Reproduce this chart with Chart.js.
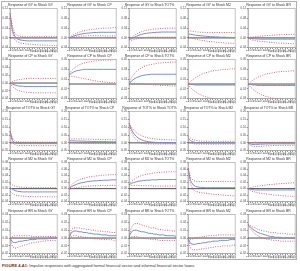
<!DOCTYPE html>
<html><head><meta charset="utf-8">
<script src="https://cdn.jsdelivr.net/npm/chart.js@4/dist/chart.umd.min.js"></script>
<style>
html,body{margin:0;padding:0;background:#fff;width:300px;height:271px;overflow:hidden;font-family:"Liberation Sans",Arial,sans-serif}
#box{position:absolute;left:1px;top:1px;width:296px;height:259px;border:1px solid #b0b0b0;box-sizing:border-box}
.cell{position:absolute}
#cap{position:absolute;left:2px;top:263px;font-size:4px;color:#333;white-space:nowrap}
#cap b{color:#7a2a1a}
</style></head><body>
<div id="box"></div>
<div id="cap"><b>FIGURE 4-A1:</b> Impulse responses with aggregated formal financial sector and informal financial sector loans.</div>
<script>
const periods = [1,2,3,4,5,6,7,8,9,10,11,12,13,14,15,16,17,18,19,20];
const variables = ['GY','CP','TOT%','M2','BR'];
// axis ranges per row: [min, max, step]
const rowAxis = [[-0.04,0.12,0.04],[-0.03,0.05,0.01],[-0.05,0.20,0.05],[-0.04,0.08,0.02],[-0.02,0.03,0.01]];
const cpGyAxis = [-0.04,0.06,0.01];

// Row 1: response of GY
const resp_GY_GY=[0.100,0.030,0.005,-0.004,-0.008,-0.010,-0.011,-0.012,-0.012,-0.012,-0.012,-0.012,-0.012,-0.012,-0.012,-0.012,-0.012,-0.012,-0.012,-0.012];
const hi_GY_GY=[0.100,0.045,0.018,0.010,0.007,0.006,0.005,0.005,0.005,0.005,0.005,0.005,0.005,0.005,0.005,0.005,0.005,0.005,0.005,0.005];
const lo_GY_GY=[0.100,0.018,-0.008,-0.016,-0.020,-0.022,-0.024,-0.025,-0.026,-0.027,-0.028,-0.028,-0.029,-0.029,-0.030,-0.030,-0.030,-0.031,-0.031,-0.031];
const resp_GY_CP=[0,0.004,0.008,0.011,0.014,0.016,0.018,0.019,0.020,0.021,0.022,0.022,0.023,0.023,0.023,0.023,0.023,0.023,0.023,0.023];
const hi_GY_CP=[0,0.008,0.014,0.019,0.023,0.026,0.029,0.031,0.033,0.035,0.036,0.037,0.038,0.039,0.040,0.040,0.041,0.041,0.042,0.042];
const lo_GY_CP=[0,0.001,0.003,0.005,0.006,0.007,0.008,0.008,0.009,0.009,0.009,0.009,0.009,0.009,0.009,0.008,0.008,0.008,0.008,0.008];
const resp_GY_TOT=[-0.006,-0.004,0.002,0.007,0.011,0.014,0.017,0.019,0.020,0.021,0.022,0.023,0.023,0.024,0.024,0.024,0.024,0.024,0.024,0.024];
const hi_GY_TOT=[-0.006,0.002,0.010,0.016,0.021,0.025,0.028,0.031,0.033,0.035,0.036,0.037,0.038,0.039,0.039,0.040,0.040,0.040,0.040,0.040];
const lo_GY_TOT=[-0.006,-0.010,-0.007,-0.004,-0.002,0.000,0.001,0.002,0.003,0.003,0.003,0.003,0.003,0.003,0.003,0.003,0.003,0.003,0.003,0.003];
const resp_GY_M2=[0.016,0.015,0.013,0.011,0.010,0.009,0.008,0.007,0.006,0.005,0.005,0.004,0.004,0.003,0.003,0.003,0.002,0.002,0.002,0.002];
const hi_GY_M2=[0.026,0.028,0.027,0.025,0.024,0.023,0.023,0.022,0.022,0.022,0.022,0.022,0.022,0.022,0.022,0.022,0.022,0.022,0.022,0.022];
const lo_GY_M2=[0.006,0.002,-0.002,-0.005,-0.007,-0.009,-0.011,-0.012,-0.014,-0.015,-0.016,-0.017,-0.018,-0.019,-0.020,-0.021,-0.021,-0.022,-0.022,-0.023];
const resp_GY_BR=[0,-0.002,-0.003,-0.004,-0.004,-0.005,-0.005,-0.005,-0.005,-0.005,-0.005,-0.005,-0.005,-0.005,-0.005,-0.005,-0.005,-0.005,-0.005,-0.005];
const hi_GY_BR=[0,0.003,0.004,0.005,0.006,0.007,0.008,0.009,0.010,0.010,0.011,0.012,0.012,0.013,0.013,0.014,0.014,0.014,0.015,0.015];
const lo_GY_BR=[0,-0.006,-0.009,-0.011,-0.013,-0.014,-0.015,-0.016,-0.017,-0.018,-0.019,-0.020,-0.021,-0.021,-0.022,-0.022,-0.023,-0.023,-0.024,-0.024];

// Row 2: response of CP
const resp_CP_GY=[0,-0.003,-0.005,-0.007,-0.008,-0.008,-0.009,-0.009,-0.009,-0.009,-0.009,-0.009,-0.009,-0.009,-0.009,-0.009,-0.009,-0.009,-0.009,-0.009];
const hi_CP_GY=[0,0.004,0.006,0.008,0.009,0.010,0.011,0.011,0.012,0.012,0.012,0.012,0.012,0.012,0.012,0.012,0.012,0.012,0.012,0.012];
const lo_CP_GY=[0,-0.009,-0.014,-0.018,-0.020,-0.022,-0.023,-0.024,-0.024,-0.025,-0.025,-0.025,-0.025,-0.025,-0.025,-0.025,-0.025,-0.025,-0.025,-0.025];
const resp_CP_CP=[0.018,0.022,0.025,0.027,0.028,0.029,0.030,0.030,0.030,0.030,0.030,0.030,0.030,0.030,0.030,0.030,0.030,0.030,0.030,0.030];
const hi_CP_CP=[0.020,0.027,0.032,0.036,0.039,0.041,0.043,0.044,0.045,0.046,0.047,0.047,0.048,0.048,0.049,0.049,0.049,0.049,0.050,0.050];
const lo_CP_CP=[0.016,0.016,0.015,0.014,0.013,0.012,0.011,0.010,0.009,0.008,0.007,0.006,0.005,0.005,0.004,0.004,0.003,0.003,0.003,0.002];
const resp_CP_TOT=[0,0.006,0.010,0.013,0.015,0.017,0.018,0.019,0.019,0.020,0.020,0.020,0.020,0.020,0.020,0.020,0.020,0.020,0.020,0.020];
const hi_CP_TOT=[0,0.013,0.020,0.026,0.030,0.033,0.036,0.038,0.039,0.040,0.041,0.042,0.043,0.043,0.044,0.044,0.044,0.045,0.045,0.045];
const lo_CP_TOT=[0,0.000,0.001,0.001,0.001,0.001,0.000,0.000,-0.001,-0.001,-0.002,-0.002,-0.002,-0.003,-0.003,-0.003,-0.003,-0.004,-0.004,-0.004];
const resp_CP_M2=[0,-0.001,-0.001,-0.002,-0.002,-0.002,-0.002,-0.002,-0.002,-0.002,-0.002,-0.002,-0.002,-0.002,-0.002,-0.002,-0.002,-0.002,-0.002,-0.002];
const hi_CP_M2=[0,0.005,0.009,0.013,0.016,0.019,0.021,0.023,0.024,0.026,0.027,0.028,0.028,0.029,0.030,0.030,0.030,0.031,0.031,0.031];
const lo_CP_M2=[0,-0.007,-0.012,-0.016,-0.019,-0.022,-0.024,-0.026,-0.027,-0.029,-0.030,-0.031,-0.032,-0.032,-0.033,-0.033,-0.034,-0.034,-0.034,-0.035];
const resp_CP_BR=[0,-0.001,-0.002,-0.002,-0.003,-0.003,-0.003,-0.003,-0.003,-0.003,-0.003,-0.003,-0.003,-0.003,-0.003,-0.003,-0.003,-0.003,-0.003,-0.003];
const hi_CP_BR=[0,0.004,0.008,0.011,0.014,0.016,0.018,0.020,0.021,0.022,0.023,0.024,0.025,0.025,0.026,0.026,0.026,0.027,0.027,0.027];
const lo_CP_BR=[0,-0.006,-0.011,-0.015,-0.018,-0.021,-0.023,-0.025,-0.026,-0.028,-0.029,-0.030,-0.030,-0.031,-0.031,-0.032,-0.032,-0.032,-0.033,-0.033];

// Row 3: response of TOT%
const resp_TOT_GY=[0.075,0.015,0.000,-0.004,-0.005,-0.005,-0.005,-0.005,-0.005,-0.005,-0.005,-0.005,-0.005,-0.005,-0.005,-0.005,-0.005,-0.005,-0.005,-0.005];
const hi_TOT_GY=[0.075,0.030,0.012,0.007,0.005,0.005,0.005,0.005,0.005,0.005,0.005,0.005,0.005,0.005,0.005,0.005,0.005,0.005,0.005,0.005];
const lo_TOT_GY=[0.075,0.002,-0.012,-0.016,-0.017,-0.018,-0.018,-0.018,-0.018,-0.018,-0.018,-0.018,-0.018,-0.018,-0.018,-0.018,-0.018,-0.018,-0.018,-0.018];
const resp_TOT_CP=[0.012,0.013,0.013,0.012,0.012,0.011,0.011,0.010,0.010,0.009,0.009,0.009,0.008,0.008,0.008,0.008,0.007,0.007,0.007,0.007];
const hi_TOT_CP=[0.022,0.025,0.026,0.026,0.025,0.025,0.024,0.024,0.023,0.023,0.022,0.022,0.022,0.021,0.021,0.021,0.021,0.020,0.020,0.020];
const lo_TOT_CP=[0.002,0.002,0.001,0.000,-0.001,-0.002,-0.003,-0.003,-0.004,-0.004,-0.005,-0.005,-0.005,-0.005,-0.005,-0.005,-0.005,-0.005,-0.005,-0.005];
const resp_TOT_TOT=[0.125,0.085,0.058,0.040,0.028,0.020,0.014,0.010,0.007,0.005,0.004,0.003,0.002,0.002,0.001,0.001,0.001,0.001,0.000,0.000];
const hi_TOT_TOT=[0.125,0.100,0.080,0.065,0.054,0.046,0.040,0.035,0.031,0.028,0.026,0.024,0.023,0.022,0.021,0.020,0.020,0.019,0.019,0.019];
const lo_TOT_TOT=[0.125,0.070,0.038,0.018,0.006,-0.001,-0.004,-0.006,-0.007,-0.007,-0.007,-0.007,-0.007,-0.007,-0.007,-0.007,-0.007,-0.007,-0.007,-0.007];
const resp_TOT_M2=[0.030,0.015,0.006,0.002,0.000,0.000,0.000,0.000,0.000,0.000,0.000,0.000,0.000,0.000,0.000,0.000,0.000,0.000,0.000,0.000];
const hi_TOT_M2=[0.042,0.030,0.021,0.016,0.013,0.011,0.010,0.010,0.010,0.010,0.010,0.010,0.010,0.010,0.010,0.010,0.010,0.010,0.010,0.010];
const lo_TOT_M2=[0.018,0.002,-0.005,-0.007,-0.008,-0.008,-0.008,-0.008,-0.008,-0.008,-0.008,-0.008,-0.008,-0.008,-0.008,-0.008,-0.008,-0.008,-0.008,-0.008];
const resp_TOT_BR=[0,-0.008,-0.010,-0.010,-0.009,-0.008,-0.008,-0.007,-0.007,-0.006,-0.006,-0.006,-0.006,-0.006,-0.006,-0.006,-0.006,-0.006,-0.006,-0.006];
const hi_TOT_BR=[0,0.002,0.003,0.004,0.004,0.004,0.004,0.004,0.004,0.004,0.004,0.004,0.004,0.004,0.004,0.004,0.004,0.004,0.004,0.004];
const lo_TOT_BR=[0,-0.018,-0.022,-0.023,-0.023,-0.022,-0.021,-0.020,-0.019,-0.018,-0.017,-0.017,-0.016,-0.016,-0.016,-0.016,-0.016,-0.016,-0.016,-0.016];

// Row 4: response of M2
const resp_M2_GY=[0.004,-0.002,-0.006,-0.008,-0.009,-0.010,-0.010,-0.010,-0.010,-0.010,-0.010,-0.010,-0.010,-0.010,-0.010,-0.010,-0.010,-0.010,-0.010,-0.010];
const hi_M2_GY=[0.016,0.011,0.008,0.006,0.005,0.004,0.004,0.003,0.003,0.003,0.003,0.003,0.003,0.003,0.003,0.003,0.003,0.003,0.003,0.003];
const lo_M2_GY=[-0.008,-0.015,-0.019,-0.021,-0.022,-0.023,-0.023,-0.024,-0.024,-0.024,-0.025,-0.025,-0.025,-0.025,-0.025,-0.025,-0.025,-0.025,-0.025,-0.025];
const resp_M2_CP=[0,0.006,0.010,0.013,0.016,0.018,0.019,0.021,0.022,0.023,0.024,0.024,0.025,0.025,0.026,0.026,0.026,0.027,0.027,0.027];
const hi_M2_CP=[0,0.012,0.018,0.023,0.027,0.030,0.032,0.034,0.036,0.037,0.038,0.039,0.040,0.041,0.041,0.042,0.042,0.043,0.043,0.043];
const lo_M2_CP=[0,0.000,0.002,0.003,0.004,0.005,0.006,0.007,0.008,0.008,0.009,0.009,0.009,0.010,0.010,0.010,0.010,0.010,0.010,0.010];
const resp_M2_TOT=[0.012,0.016,0.019,0.021,0.023,0.024,0.025,0.026,0.026,0.027,0.027,0.027,0.028,0.028,0.028,0.028,0.028,0.028,0.028,0.028];
const hi_M2_TOT=[0.012,0.022,0.028,0.033,0.037,0.040,0.042,0.044,0.046,0.047,0.048,0.049,0.050,0.050,0.051,0.051,0.052,0.052,0.052,0.052];
const lo_M2_TOT=[0.012,0.010,0.010,0.010,0.010,0.009,0.009,0.009,0.009,0.009,0.008,0.008,0.008,0.008,0.008,0.008,0.008,0.008,0.008,0.008];
const resp_M2_M2=[0.063,0.025,0.012,0.007,0.005,0.004,0.004,0.003,0.003,0.003,0.003,0.003,0.003,0.003,0.003,0.003,0.003,0.003,0.003,0.003];
const hi_M2_M2=[0.063,0.035,0.026,0.023,0.022,0.022,0.022,0.022,0.022,0.022,0.022,0.022,0.022,0.022,0.022,0.022,0.022,0.022,0.022,0.022];
const lo_M2_M2=[0.063,0.014,-0.002,-0.008,-0.010,-0.012,-0.013,-0.014,-0.015,-0.016,-0.017,-0.018,-0.018,-0.019,-0.020,-0.020,-0.021,-0.021,-0.022,-0.022];
const resp_M2_BR=[0,-0.002,-0.003,-0.004,-0.004,-0.004,-0.004,-0.004,-0.004,-0.004,-0.004,-0.004,-0.004,-0.004,-0.004,-0.004,-0.004,-0.004,-0.004,-0.004];
const hi_M2_BR=[0,0.003,0.005,0.007,0.008,0.009,0.010,0.011,0.012,0.013,0.013,0.014,0.015,0.015,0.016,0.016,0.017,0.017,0.018,0.018];
const lo_M2_BR=[0,-0.006,-0.009,-0.011,-0.013,-0.014,-0.015,-0.016,-0.017,-0.018,-0.019,-0.020,-0.020,-0.021,-0.022,-0.022,-0.023,-0.023,-0.024,-0.024];

// Row 5: response of BR
const resp_BR_GY=[0,-0.005,-0.006,-0.005,-0.004,-0.004,-0.003,-0.003,-0.002,-0.002,-0.002,-0.001,-0.001,-0.001,-0.001,-0.001,0.000,0.000,0.000,0.000];
const hi_BR_GY=[0,0.002,0.003,0.003,0.003,0.003,0.003,0.003,0.003,0.002,0.002,0.002,0.002,0.002,0.002,0.002,0.002,0.002,0.002,0.002];
const lo_BR_GY=[0,-0.011,-0.013,-0.012,-0.011,-0.010,-0.009,-0.008,-0.007,-0.006,-0.006,-0.005,-0.005,-0.004,-0.004,-0.003,-0.003,-0.003,-0.003,-0.003];
const resp_BR_CP=[0,0.007,0.009,0.009,0.008,0.008,0.007,0.007,0.006,0.006,0.005,0.005,0.005,0.004,0.004,0.004,0.003,0.003,0.003,0.003];
const hi_BR_CP=[0,0.011,0.013,0.013,0.013,0.012,0.012,0.011,0.011,0.010,0.010,0.009,0.009,0.009,0.008,0.008,0.008,0.007,0.007,0.007];
const lo_BR_CP=[0,0.002,0.003,0.003,0.002,0.002,0.001,0.001,0.000,0.000,-0.001,-0.001,-0.001,-0.002,-0.002,-0.002,-0.002,-0.002,-0.003,-0.003];
const resp_BR_TOT=[0.002,0.008,0.010,0.010,0.009,0.008,0.008,0.007,0.006,0.006,0.005,0.005,0.004,0.004,0.004,0.003,0.003,0.003,0.003,0.002];
const hi_BR_TOT=[0.002,0.014,0.018,0.019,0.018,0.017,0.016,0.015,0.014,0.013,0.013,0.012,0.011,0.011,0.010,0.010,0.010,0.009,0.009,0.009];
const lo_BR_TOT=[0.002,0.002,0.002,0.002,0.001,0.000,0.000,-0.001,-0.001,-0.002,-0.002,-0.002,-0.003,-0.003,-0.003,-0.003,-0.003,-0.003,-0.003,-0.003];
const resp_BR_M2=[0,-0.007,-0.008,-0.008,-0.007,-0.007,-0.006,-0.006,-0.005,-0.005,-0.004,-0.004,-0.004,-0.003,-0.003,-0.003,-0.003,-0.002,-0.002,-0.002];
const hi_BR_M2=[0,-0.002,-0.001,0.000,0.001,0.001,0.002,0.002,0.003,0.003,0.003,0.003,0.004,0.004,0.004,0.004,0.004,0.004,0.004,0.004];
const lo_BR_M2=[0,-0.013,-0.015,-0.015,-0.015,-0.014,-0.014,-0.013,-0.013,-0.012,-0.012,-0.011,-0.011,-0.011,-0.010,-0.010,-0.010,-0.010,-0.009,-0.009];
const resp_BR_BR=[0.017,0.014,0.011,0.009,0.007,0.006,0.005,0.004,0.003,0.002,0.002,0.001,0.001,0.001,0.000,0.000,0.000,0.000,0.000,0.000];
const hi_BR_BR=[0.017,0.016,0.014,0.013,0.011,0.010,0.009,0.009,0.008,0.007,0.007,0.007,0.006,0.006,0.006,0.006,0.005,0.005,0.005,0.005];
const lo_BR_BR=[0.017,0.012,0.008,0.005,0.003,0.001,0.000,-0.001,-0.002,-0.002,-0.003,-0.003,-0.003,-0.004,-0.004,-0.004,-0.004,-0.004,-0.004,-0.004];

const series = {
  GY_GY:[resp_GY_GY,lo_GY_GY,hi_GY_GY], GY_CP:[resp_GY_CP,lo_GY_CP,hi_GY_CP], GY_TOT:[resp_GY_TOT,lo_GY_TOT,hi_GY_TOT], GY_M2:[resp_GY_M2,lo_GY_M2,hi_GY_M2], GY_BR:[resp_GY_BR,lo_GY_BR,hi_GY_BR],
  CP_GY:[resp_CP_GY,lo_CP_GY,hi_CP_GY], CP_CP:[resp_CP_CP,lo_CP_CP,hi_CP_CP], CP_TOT:[resp_CP_TOT,lo_CP_TOT,hi_CP_TOT], CP_M2:[resp_CP_M2,lo_CP_M2,hi_CP_M2], CP_BR:[resp_CP_BR,lo_CP_BR,hi_CP_BR],
  TOT_GY:[resp_TOT_GY,lo_TOT_GY,hi_TOT_GY], TOT_CP:[resp_TOT_CP,lo_TOT_CP,hi_TOT_CP], TOT_TOT:[resp_TOT_TOT,lo_TOT_TOT,hi_TOT_TOT], TOT_M2:[resp_TOT_M2,lo_TOT_M2,hi_TOT_M2], TOT_BR:[resp_TOT_BR,lo_TOT_BR,hi_TOT_BR],
  M2_GY:[resp_M2_GY,lo_M2_GY,hi_M2_GY], M2_CP:[resp_M2_CP,lo_M2_CP,hi_M2_CP], M2_TOT:[resp_M2_TOT,lo_M2_TOT,hi_M2_TOT], M2_M2:[resp_M2_M2,lo_M2_M2,hi_M2_M2], M2_BR:[resp_M2_BR,lo_M2_BR,hi_M2_BR],
  BR_GY:[resp_BR_GY,lo_BR_GY,hi_BR_GY], BR_CP:[resp_BR_CP,lo_BR_CP,hi_BR_CP], BR_TOT:[resp_BR_TOT,lo_BR_TOT,hi_BR_TOT], BR_M2:[resp_BR_M2,lo_BR_M2,hi_BR_M2], BR_BR:[resp_BR_BR,lo_BR_BR,hi_BR_BR]
};
const keys = ['GY','CP','TOT','M2','BR'];

const boxPlugin = {
  id:'box',
  beforeDatasetsDraw(chart){
    const {ctx, chartArea:a, scales:{y}} = chart;
    ctx.save();
    ctx.strokeStyle='#9a9a9a'; ctx.lineWidth=0.6;
    ctx.strokeRect(a.left,a.top,a.width,a.height);
    const z = y.getPixelForValue(0);
    ctx.strokeStyle='#3a3a3a'; ctx.lineWidth=0.9;
    ctx.beginPath(); ctx.moveTo(a.left,z); ctx.lineTo(a.right,z); ctx.stroke();
    ctx.restore();
  }
};

const CW = 59.4, CH = 51.4;
for (let r=0;r<5;r++){
  for (let c=0;c<5;c++){
    const d = document.createElement('div');
    d.className='cell';
    d.style.left = (2 + c*CW) + 'px';
    d.style.top = (2 + r*CH) + 'px';
    const cv = document.createElement('canvas');
    cv.width = 59; cv.height = 51;
    cv.style.width='59px'; cv.style.height='51px';
    d.appendChild(cv);
    document.body.appendChild(d);
    const ax = (r===1 && c===0) ? cpGyAxis : rowAxis[r];
    const [resp, lo, hi] = series[keys[r]+'_'+keys[c]];
    new Chart(cv, {
      type:'line',
      data:{labels:periods, datasets:[
        {data:hi, borderColor:'#e0606e', borderDash:[1,1.4], borderWidth:1, pointRadius:0, fill:false, tension:0},
        {data:lo, borderColor:'#e0606e', borderDash:[1,1.4], borderWidth:1, pointRadius:0, fill:false, tension:0},
        {data:resp, borderColor:'#7391c9', borderWidth:1, pointRadius:0, fill:false, tension:0}
      ]},
      options:{
        responsive:false, animation:false, devicePixelRatio:1, events:[],
        layout:{padding:{left:0,right:2,top:0,bottom:0}},
        plugins:{
          legend:{display:false}, tooltip:{enabled:false},
          title:{display:true, text:'Response of '+variables[r]+' to Shock '+variables[c], color:'#333',
                 font:{size:3.4, family:'Liberation Sans', weight:'normal'}, padding:{top:1.5,bottom:1}}
        },
        scales:{
          x:{grid:{display:true, drawOnChartArea:false, tickLength:1.2, color:'#888'},
             border:{color:'#9a9a9a', width:0.6},
             ticks:{font:{size:2.8, family:'Liberation Sans'}, color:'#444', maxRotation:90, minRotation:90, autoSkip:false, padding:0.5}},
          y:{min:ax[0], max:ax[1],
             grid:{display:true, drawOnChartArea:false, tickLength:1.2, color:'#888'},
             border:{color:'#9a9a9a', width:0.6},
             ticks:{stepSize:ax[2], font:{size:2.8, family:'Liberation Sans'}, color:'#444', padding:0.8,
                    callback:(v)=>Number(v).toFixed(2)},
             afterFit(s){ s.width = 8; }}
        }
      },
      plugins:[boxPlugin]
    });
  }
}
</script>
</body></html>
